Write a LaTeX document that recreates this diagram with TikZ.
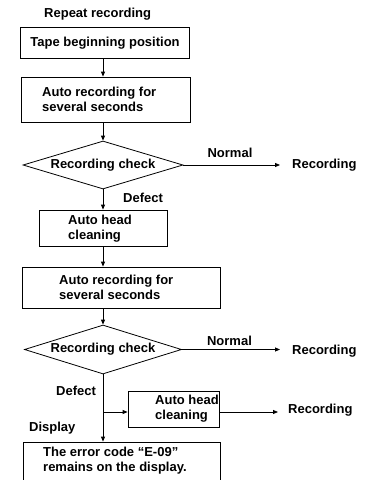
\documentclass[tikz,border=0pt]{standalone}
\usepackage{fontspec}
\setmainfont{Liberation Sans}
\usetikzlibrary{arrows.meta,shapes.geometric}
\begin{document}
\begin{tikzpicture}[x=1pt,y=-1pt,
  box/.style={draw, line width=0.8pt, inner sep=0pt},
  dia/.style={draw, shape=diamond, aspect=3.3, line width=0.8pt, inner sep=0pt, font=\fontsize{13}{15}\selectfont\bfseries},
  txt/.style={font=\fontsize{13}{15}\selectfont\bfseries, inner sep=0pt, align=left},
  arr/.style={-{Triangle[length=5pt,width=4pt]}, line width=0.8pt}]
\useasboundingbox (0,0) rectangle (370,480);
\clip (0,0) rectangle (370,480);

\node[txt, anchor=west] (title) at (44,14) {Repeat recording};

\node[box, minimum width=169, minimum height=31] (b1) at (104.5,42.5) {};
\node[txt] (t1) at (105,43) {Tape beginning position};

\node[box, minimum width=169, minimum height=45] (b2) at (105.5,99.5) {};
\node[txt, anchor=west] (t2) at (42,99.5) {Auto recording for\\several seconds};

\node[dia, minimum width=160, minimum height=48] (d1) at (103,165) {Recording check};
\node[txt] (n1) at (230,153) {Normal};
\node[txt, anchor=west] (r1) at (292,165) {Recording};
\node[txt, anchor=west] (f1) at (123,198) {Defect};

\node[box, minimum width=128, minimum height=36] (b3) at (103,228) {};
\node[txt, anchor=west] (t3) at (68,228.5) {Auto head\\cleaning};

\node[box, minimum width=198, minimum height=41] (b4) at (121,287.5) {};
\node[txt, anchor=west] (t4) at (59,287.5) {Auto recording for\\several seconds};

\node[dia, minimum width=157, minimum height=49] (d2) at (103,349.5) {Recording check};
\node[txt] (n2) at (229.5,341) {Normal};
\node[txt, anchor=west] (r2) at (292,351) {Recording};
\node[txt, anchor=west] (f2) at (56,391) {Defect};

\node[box, minimum width=91, minimum height=36] (b5) at (173.5,409) {};
\node[txt, anchor=west] (t5) at (155,409) {Auto head\\cleaning};
\node[txt, anchor=west] (r3) at (288,410) {Recording};

\node[txt, anchor=west] (disp) at (29,428) {Display};
\node[box, minimum width=197, minimum height=58] (b6) at (121.5,471) {};
\node[txt, anchor=west] (t6) at (43,460.5) {The error code “E-09”\\remains on the display.};

\coordinate (j) at (103,412);

\draw[arr] (d1.north |- b1.south) -- (d1.north |- b2.north);
\draw[arr] (d1.north |- b2.south) -- (d1.north);
\draw[arr, shorten >=12pt] (d1.east) -- (d1.east -| r1.west);
\draw[arr] (d1.south) -- (d1.south |- b3.north);
\draw[arr] (d1.south |- b3.south) -- (d1.south |- b4.north);
\draw[arr] (d2.north |- b4.south) -- (d2.north);
\draw[arr, shorten >=12pt] (d2.east) -- (d2.east -| r2.west);
\draw[arr] (d2.south) -- (d2.south |- b6.north);
\draw[arr] (j) -- (j -| b5.west);
\draw[arr, shorten >=10pt] (j -| b5.east) -- (j -| r3.west);
\end{tikzpicture}
\end{document}
